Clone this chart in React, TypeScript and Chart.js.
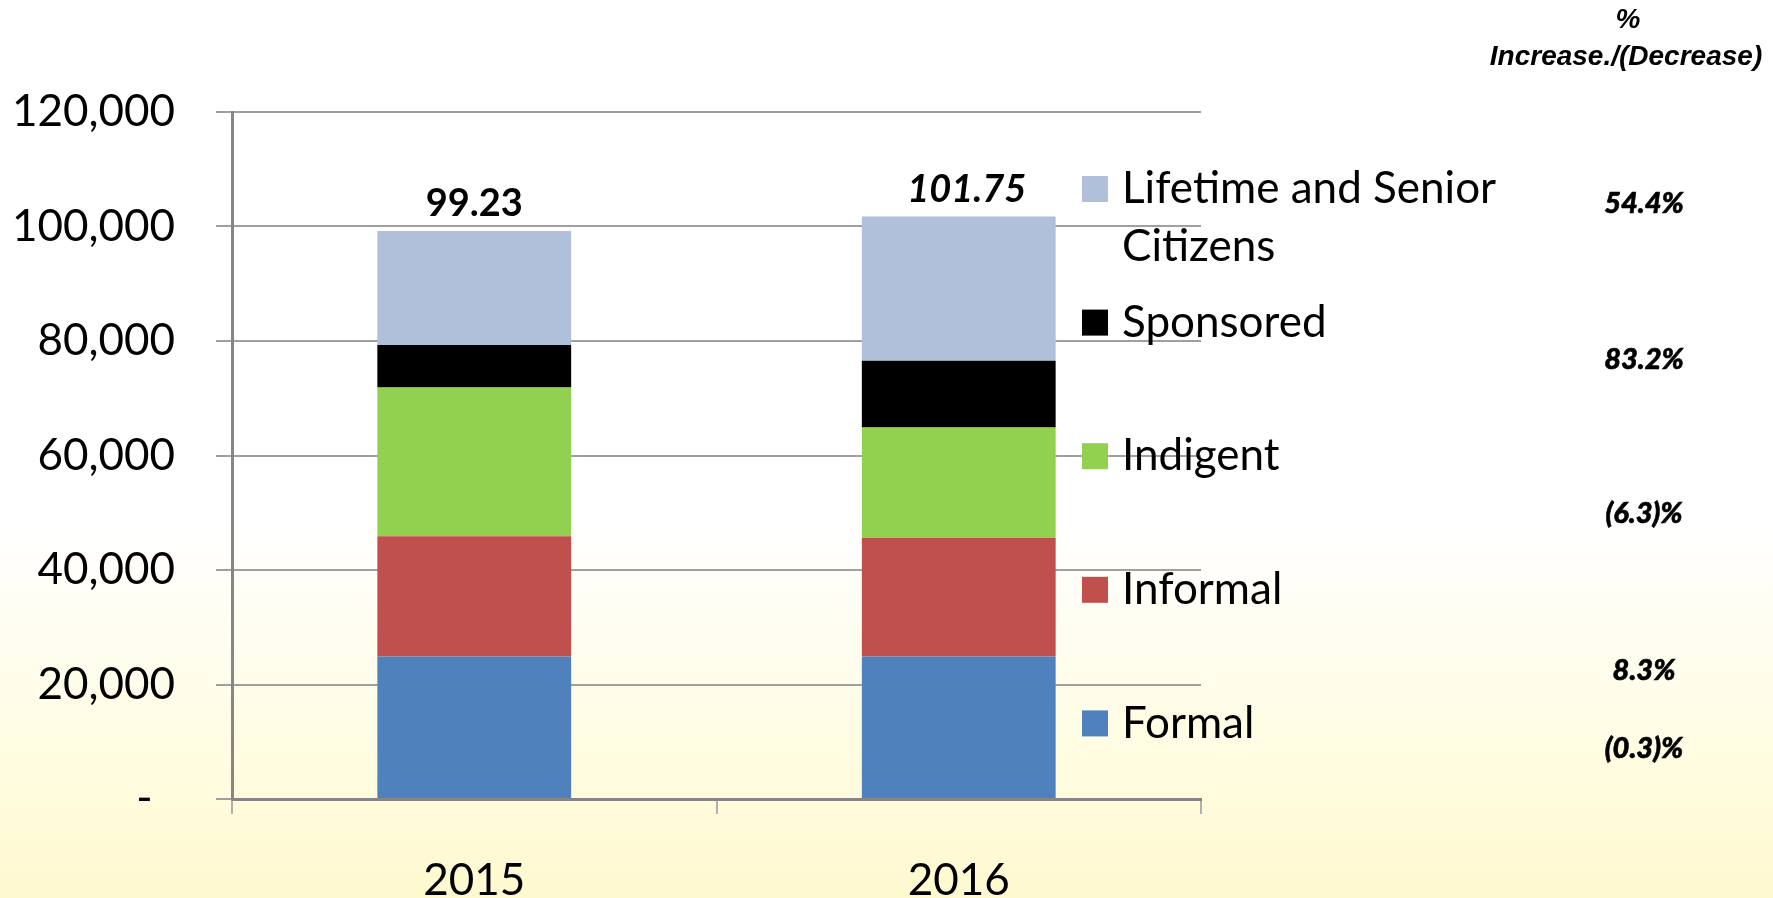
import React, { useEffect, useRef } from 'react';
import { Chart, registerables } from 'chart.js';

Chart.register(...registerables);

// ---- data ----
const categories = ['2015', '2016'];
const formal = [24900, 24900];
const informal = [20990, 20700];
const indigent = [26005, 19300];
const sponsored = [7405, 11660];
const lifetime = [19930, 25190];
const totalLabels = ['99.23', '101.75'];
const yTickValues = [0, 20000, 40000, 60000, 80000, 100000, 120000];
const seriesNames = ['Formal', 'Informal', 'Indigent', 'Sponsored', 'Lifetime and Senior Citizens'];
const pctHeader = ['%', 'Increase./(Decrease)'];
const pctChanges = ['54.4%', '83.2%', '(6.3)%', '8.3%', '(0.3)%'];

const seriesColors = ['#4F81BD', '#C0504D', '#92D050', '#000000', '#B0C0DA'];
const FONT = 'Lato, "Open Sans", sans-serif';

function wrapText(ctx: CanvasRenderingContext2D, text: string, maxWidth: number): string[] {
  const words = text.split(' ');
  const lines: string[] = [];
  let cur = '';
  for (const w of words) {
    const test = cur ? cur + ' ' + w : w;
    if (cur && ctx.measureText(test).width > maxWidth) {
      lines.push(cur);
      cur = w;
    } else {
      cur = test;
    }
  }
  if (cur) lines.push(cur);
  return lines;
}

const overlayPlugin = {
  id: 'overlay',
  afterDatasetsDraw(chart: any) {
    const ctx: CanvasRenderingContext2D = chart.ctx;
    const topMeta = chart.getDatasetMeta(chart.data.datasets.length - 1);
    const italic = [false, true];
    ctx.save();
    ctx.fillStyle = '#000';
    ctx.textAlign = 'center';
    ctx.textBaseline = 'middle';
    topMeta.data.forEach((bar: any, i: number) => {
      ctx.font = `${italic[i] ? 'italic ' : ''}bold 38px ${FONT}`;
      ctx.fillText(totalLabels[i], bar.x + (italic[i] ? 8 : 0), bar.y - 27);
    });
    ctx.restore();
  },
  afterDraw(chart: any) {
    const ctx: CanvasRenderingContext2D = chart.ctx;
    ctx.save();
    // legend (top item = top of stack)
    const order = chart.data.datasets.map((_: any, i: number) => i).reverse();
    const markerX = 1082;
    const markerSize = 26;
    const textX = 1122;
    const startY = 189;
    const step = 133.6;
    const lineH = 58;
    ctx.font = `44px ${FONT}`;
    ctx.textAlign = 'left';
    ctx.textBaseline = 'middle';
    order.forEach((di: number, k: number) => {
      const ds = chart.data.datasets[di];
      const cy = startY + k * step;
      ctx.fillStyle = ds.backgroundColor as string;
      ctx.fillRect(markerX, cy - markerSize / 2, markerSize, markerSize);
      ctx.fillStyle = '#000';
      const lines = wrapText(ctx, ds.label, 400);
      lines.forEach((ln, j) => ctx.fillText(ln, textX, cy + j * lineH));
    });

    // header on the right
    ctx.textAlign = 'center';
    ctx.font = 'italic bold 28px "Liberation Sans", Arial, sans-serif';
    ctx.fillText(pctHeader[0], 1628, 20);
    ctx.fillText(pctHeader[1], 1626, 57);

    // percentage changes
    const pctY = [204, 360, 514, 671, 749];
    ctx.font = `italic 900 29px ${FONT}`;
    ctx.strokeStyle = '#000';
    ctx.lineWidth = 0.6;
    pctChanges.forEach((t, i) => {
      ctx.fillText(t, 1644, pctY[i]);
      ctx.strokeText(t, 1644, pctY[i]);
    });
    ctx.restore();
  },
};

export default function App() {
  const ref = useRef<HTMLCanvasElement>(null);

  useEffect(() => {
    const values = [formal, informal, indigent, sponsored, lifetime];
    const chart = new Chart(ref.current as HTMLCanvasElement, {
      type: 'bar',
      data: {
        labels: categories,
        datasets: values.map((v, i) => ({
          label: seriesNames[i],
          data: v,
          backgroundColor: seriesColors[i],
          borderWidth: 0,
          categoryPercentage: 0.8,
          barPercentage: 0.5,
        })),
      },
      options: {
        responsive: false,
        devicePixelRatio: 1,
        animation: false,
        layout: { padding: { top: 112, right: 572, left: 0, bottom: 0 } },
        plugins: {
          legend: { display: false },
          tooltip: { enabled: false },
        },
        scales: {
          x: {
            stacked: true,
            grid: {
              drawOnChartArea: false,
              drawTicks: true,
              tickLength: 15,
              color: '#b0b0b0',
              lineWidth: 2,
              offset: true,
            },
            border: { color: '#868686', width: 3 },
            ticks: { font: { family: FONT, size: 44 }, color: '#000', padding: 40 },
            afterFit: (s: any) => {
              s.height = 99;
            },
          },
          y: {
            stacked: true,
            min: 0,
            max: 120000,
            afterBuildTicks: (s: any) => {
              s.ticks = yTickValues.map((v) => ({ value: v }));
            },
            ticks: {
              font: { family: FONT, size: 44 },
              color: '#000',
              padding: 41,
              callback: (v: any) => (Number(v) === 0 ? '-  ' : Number(v).toLocaleString('en-US')),
            },
            grid: { color: '#a0a0a0', lineWidth: 2, tickLength: 16 },
            border: { color: '#868686', width: 3 },
            afterFit: (s: any) => {
              s.width = 232;
            },
          },
        },
      },
      plugins: [overlayPlugin],
    });
    return () => chart.destroy();
  }, []);

  return (
    <div
      style={{
        position: 'fixed',
        left: 0,
        top: 0,
        width: 1773,
        height: 898,
        background: 'linear-gradient(to bottom, #ffffff 0%, #ffffff 58%, #fffde6 80%, #fff9d0 100%)',
      }}
    >
      <canvas ref={ref} width={1773} height={898} style={{ display: 'block', width: 1773, height: 898 }} />
    </div>
  );
}
